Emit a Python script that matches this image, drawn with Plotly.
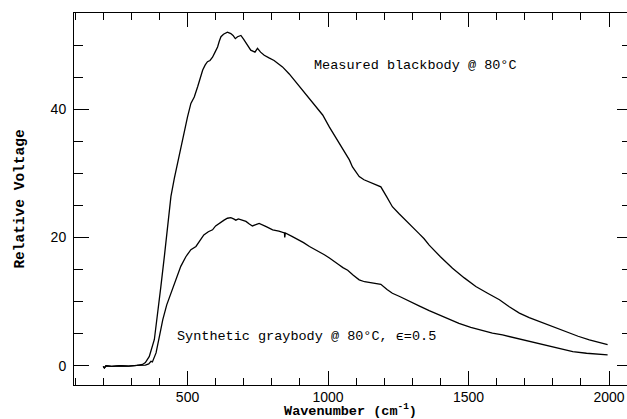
import plotly.graph_objects as go

# Measured blackbody @ 80°C (wavenumber cm^-1, relative voltage)
bb_wn = [200, 204, 210, 230, 260, 290, 320, 340, 350, 364, 382, 395, 405, 418, 429, 441, 453, 465, 476, 488,
         500, 512, 524, 536, 545, 554, 563, 571, 580, 589, 598, 607, 613, 619, 628, 636, 642, 648, 654, 662,
         670, 678, 690, 700, 713, 725, 740, 749, 760, 773, 790, 808, 823, 838, 862, 886, 910, 934, 958, 981,
         1005, 1022, 1040, 1058, 1076, 1087, 1100, 1111, 1128, 1146, 1168, 1188, 1208, 1229, 1253, 1277,
         1300, 1324, 1342, 1360, 1400, 1443, 1485, 1526, 1568, 1610, 1645, 1681, 1716, 1752, 1800, 1847,
         1890, 1930, 1965, 1995]
bb_v = [-0.1, -0.35, 0.0, -0.1, 0.0, -0.05, 0.05, 0.2, 0.5, 1.45, 4.1, 8.3, 12.3, 17.2, 21.7, 26.4, 29.2,
        31.6, 34.2, 36.7, 38.8, 40.9, 41.9, 43.5, 45.0, 46.1, 46.9, 47.4, 47.6, 48.1, 48.9, 49.7, 50.6, 51.3,
        51.7, 51.9, 52.0, 51.9, 51.8, 51.5, 51.0, 51.3, 51.5, 50.9, 50.0, 49.2, 48.9, 49.5, 48.9, 48.4, 48.0,
        47.6, 47.1, 46.6, 45.5, 44.2, 43.0, 41.6, 40.4, 39.1, 37.2, 36.0, 34.6, 33.3, 32.1, 31.0, 30.2, 29.5,
        29.0, 28.7, 28.3, 27.9, 26.4, 24.8, 23.7, 22.7, 21.7, 20.6, 19.8, 18.8, 17.0, 15.2, 13.7, 12.35, 11.3,
        10.3, 9.2, 8.2, 7.5, 6.9, 6.1, 5.3, 4.6, 4.05, 3.6, 3.3]

# Synthetic graybody @ 80°C, eps=0.5
gb_wn = [200, 204, 210, 230, 260, 290, 320, 340, 350, 362, 370, 375, 388, 400, 412, 426, 441, 458, 476, 494,
         512, 530, 544, 558, 574, 589, 600, 612, 621, 630, 642, 654, 664, 672, 681, 690, 700, 708, 720, 731,
         743, 755, 780, 803, 825, 845, 846, 848, 870, 892, 913, 934, 952, 969, 987, 1005, 1022, 1040, 1053,
         1070, 1090, 1111, 1130, 1146, 1168, 1188, 1210, 1229, 1255, 1277, 1300, 1324, 1360, 1395, 1430,
         1466, 1508, 1550, 1585, 1621, 1660, 1704, 1752, 1800, 1847, 1871, 1920, 1960, 1995]
gb_v = [-0.1, -0.35, 0.0, -0.1, 0.0, -0.05, 0.05, 0.1, 0.1, 0.3, 0.7, 0.6, 2.0, 4.6, 7.2, 9.5, 11.3, 13.5,
        15.5, 17.0, 18.1, 18.6, 19.5, 20.4, 20.9, 21.2, 21.8, 22.2, 22.5, 22.7, 23.0, 23.1, 22.9, 22.7, 22.9,
        22.8, 22.6, 22.5, 22.1, 21.8, 22.0, 22.2, 21.7, 21.2, 21.0, 20.7, 20.0, 20.7, 20.2, 19.7, 19.2, 18.6,
        18.2, 17.8, 17.3, 16.8, 16.2, 15.7, 15.3, 14.9, 14.1, 13.4, 13.1, 13.0, 12.9, 12.7, 11.9, 11.3, 10.8,
        10.3, 9.9, 9.35, 8.6, 7.9, 7.2, 6.6, 6.0, 5.5, 5.1, 4.8, 4.4, 3.9, 3.4, 2.9, 2.4, 2.2, 1.95, 1.8, 1.7]

x_ticks = [500, 1000, 1500, 2000]
y_ticks = [0, 20, 40]

fig = go.Figure()
fig.add_trace(go.Scatter(x=bb_wn, y=bb_v, mode="lines", line=dict(color="black", width=1.3),
                         showlegend=False, hoverinfo="skip"))
fig.add_trace(go.Scatter(x=gb_wn, y=gb_v, mode="lines", line=dict(color="black", width=1.3),
                         showlegend=False, hoverinfo="skip"))
fig.add_trace(go.Scatter(x=[], y=[], yaxis="y2", showlegend=False))

tickfont = dict(family="Liberation Sans, Arial, sans-serif", size=14, color="black")
mono = "Liberation Mono, Courier New, monospace"

fig.update_layout(
    width=627, height=419,
    margin=dict(l=74, r=0, t=13, b=34),
    paper_bgcolor="white", plot_bgcolor="white",
    xaxis=dict(range=[96, 2064], tickvals=x_ticks, ticks="inside", ticklen=14, tickwidth=1,
               tickcolor="black", showline=True, linecolor="black", linewidth=1, mirror="ticks",
               showgrid=False, zeroline=False, tickfont=tickfont, ticklabelstandoff=-1,
               minor=dict(dtick=100, tick0=0, ticks="inside", ticklen=7, tickcolor="black", showgrid=False),
               title=dict(text="<b>Wavenumber (cm<sup>-1</sup>)</b>",
                          font=dict(family=mono, size=13.5, color="black"), standoff=5)),
    yaxis=dict(range=[-3, 55], tickvals=y_ticks, ticks="inside", ticklen=15, tickwidth=1,
               tickcolor="black", showline=True, linecolor="black", linewidth=1,
               showgrid=False, zeroline=False, tickfont=tickfont, ticklabelstandoff=4,
               minor=dict(dtick=5, tick0=0, ticks="inside", ticklen=9, tickcolor="black", showgrid=False),
               title=dict(text="<b>Relative Voltage</b>",
                          font=dict(family=mono, size=14.5, color="black"), standoff=22)),
    yaxis2=dict(overlaying="y", side="right", matches="y", range=[-3, 55], tickvals=y_ticks,
                ticks="inside", ticklen=10, tickcolor="black", showticklabels=False,
                showline=False, showgrid=False, zeroline=False,
                minor=dict(dtick=5, tick0=0, ticks="inside", ticklen=5, tickcolor="black", showgrid=False)),
    annotations=[
        dict(x=944, y=46.8, xref="x", yref="y", xanchor="left", yanchor="middle", showarrow=False,
             text="Measured blackbody @ 80°C", font=dict(family=mono, size=13.5, color="black")),
        dict(x=456, y=4.6, xref="x", yref="y", xanchor="left", yanchor="middle", showarrow=False,
             text="Synthetic graybody @ 80°C, ϵ=0.5", font=dict(family=mono, size=13.5, color="black")),
    ],
)

fig.write_html("out.html")
